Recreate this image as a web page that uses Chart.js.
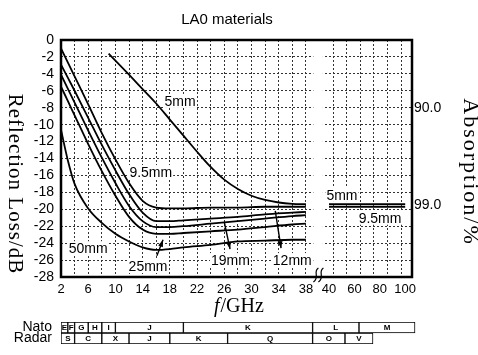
<!DOCTYPE html>
<html lang="en">
	<head>
		<meta charset="UTF-8"/>
		<title>LA0 materials</title>
		<script src="https://cdn.jsdelivr.net/npm/chart.js@4.4.0/dist/chart.umd.min.js"></script>
		<style>
			body { margin: 0; background: #fff; }
			#wrap { position: relative; width: 478px; height: 355px; }
			#wrap canvas { position: absolute; left: 0; }
		</style>
	</head>
	<body>
		<div id="wrap">
			<canvas id="chart" width="478" height="355" style="top:0"></canvas>
			<canvas id="bands" width="478" height="40" style="top:313px"></canvas>
		</div>
		<script>
			// reflection loss (dB) against frequency (GHz)
			const freq = [2, 3, 4, 6, 8, 10, 12, 14, 16, 18, 20, 24, 28, 32, 36, 38];
			const loss9_5 = [-1.0, -2.65, -4.3, -7.6, -11.0, -14.1, -16.9, -19.0, -19.8, -19.9, -19.9, -19.8, -19.8, -19.7, -19.7, -19.7];
			const loss12 = [-2.9, -4.45, -6.0, -9.2, -12.4, -15.4, -18.2, -20.4, -21.4, -21.4, -21.3, -21.1, -20.9, -20.6, -20.4, -20.3];
			const loss19 = [-4.1, -5.75, -7.4, -10.7, -13.9, -16.9, -19.6, -21.4, -22.1, -22.1, -22.0, -21.7, -21.4, -21.1, -20.8, -20.7];
			const loss25 = [-5.5, -7.2, -8.9, -12.3, -15.5, -18.4, -20.9, -22.4, -22.9, -22.9, -22.8, -22.6, -22.4, -22.1, -21.8, -21.7];
			const loss50 = [-10.6, -14.2, -17.0, -19.9, -21.6, -22.9, -23.8, -24.5, -24.8, -24.7, -24.5, -24.2, -23.8, -23.7, -23.6, -23.6];

			const freq5 = [9, 12, 14, 16, 18, 20, 22, 24, 26, 28, 30, 32, 34, 36, 38];
			const loss5 = [-1.6, -4.1, -5.8, -7.5, -9.4, -11.3, -13.2, -15.0, -16.5, -17.6, -18.4, -18.9, -19.2, -19.35, -19.4];

			// 40-100 GHz part after the axis break
			const freqHigh = [40, 100];
			const loss5High = [-19.4, -19.4];
			const loss9_5High = [-19.7, -19.7];

			// tick labels
			const yTicks = [0, -2, -4, -6, -8, -10, -12, -14, -16, -18, -20, -22, -24, -26, -28];
			const xLabelsLow = [2, 6, 10, 14, 18, 22, 26, 30, 34, 38];
			const xLabelsHigh = [40, 60, 80, 100];
			const absLabels = ['90.0', '99.0'];
			const absDb = [-8.0, -19.5];

			// frequency bands
			const natoNames = ['E', 'F', 'G', 'H', 'I', 'J', 'K', 'L', 'M'];
			const natoFrom = [2, 3, 4, 6, 8, 10, 20, 40, 60];
			const natoTo = [3, 4, 6, 8, 10, 20, 40, 60, 100];
			const radarNames = ['S', 'C', 'X', 'J', 'K', 'Q', 'O', 'V'];
			const radarFrom = [2, 4, 8, 12, 18, 26.5, 40, 50];
			const radarTo = [4, 8, 12, 18, 26.5, 40, 50, 70];

			// broken axis: 2-38 GHz linear, then 40-100 GHz squeezed
			function pos(f) {
				return f <= 38 ? f : 41.4 + (f - 40) * (52.6 - 41.4) / 60;
			}
			function tablePos(f) {
				return f <= 40 ? Math.min(f, 39) : 41.7 + (f - 40) * 0.206;
			}

			const curveLabels = [
				{text: '5mm', at: [19.5, -7.2]},
				{text: '9.5mm', at: [15.2, -15.6]},
				{text: '50mm', at: [6.0, -24.6]},
				{text: '25mm', at: [14.8, -26.7]},
				{text: '19mm', at: [26.9, -26.0]},
				{text: '12mm', at: [36.0, -26.0]},
				{text: '5mm', at: [43.3, -18.3]},
				{text: '9.5mm', at: [48.9, -21.0]}
			];
			const arrows = [
				{from: [16.1, -25.5], to: [17.0, -23.6]},
				{from: [26.0, -21.5], to: [26.85, -24.7]},
				{from: [33.5, -20.2], to: [34.35, -24.6]}
			];

			Chart.defaults.font.family = 'Liberation Sans';
			Chart.defaults.color = '#000';

			function pts(xs, ys) {
				return xs.map((f, i) => ({x: pos(f), y: ys[i]}));
			}
			function curve(data) {
				return {data: data, borderColor: '#000', borderWidth: 1.8, pointRadius: 0, cubicInterpolationMode: 'monotone', fill: false};
			}

			function buildXTicks() {
				const t = [];
				for (let v = 2; v <= 52; v += 2) {
					if (v === 40) continue;
					t.push({value: v, grid: true, txt: xLabelsLow.includes(v) ? String(v) : ''});
				}
				xLabelsHigh.forEach(f => t.push({value: pos(f), grid: false, txt: String(f)}));
				return t.sort((a, b) => a.value - b.value);
			}

			const decor = {
				id: 'decor',
				beforeDatasetsDraw(chart) {
					const {ctx, chartArea: a, scales: {x, y}} = chart;
					ctx.save();
					// gap in the grid at the axis break
					const g1 = x.getPixelForValue(39.1), g2 = x.getPixelForValue(40.5);
					ctx.fillStyle = '#fff';
					ctx.fillRect(g1, a.top, g2 - g1, a.bottom - a.top);
					// curve labels
					ctx.font = '14px Liberation Sans';
					ctx.textAlign = 'center';
					ctx.textBaseline = 'middle';
					curveLabels.forEach(l => {
						const cx = x.getPixelForValue(l.at[0]), cy = y.getPixelForValue(l.at[1]);
						const w = ctx.measureText(l.text).width;
						ctx.fillStyle = '#fff';
						ctx.fillRect(cx - w / 2 - 1, cy - 7, w + 2, 14);
						ctx.fillStyle = '#000';
						ctx.fillText(l.text, cx, cy + 1);
					});
					ctx.restore();
				},
				afterDatasetsDraw(chart) {
					const {ctx, chartArea: a, scales: {x, y}} = chart;
					ctx.save();
					// arrows from labels to curves
					ctx.strokeStyle = '#000';
					ctx.fillStyle = '#000';
					ctx.lineWidth = 1.4;
					arrows.forEach(r => {
						const x1 = x.getPixelForValue(r.from[0]), y1 = y.getPixelForValue(r.from[1]);
						const x2 = x.getPixelForValue(r.to[0]), y2 = y.getPixelForValue(r.to[1]);
						ctx.beginPath();
						ctx.moveTo(x1, y1);
						ctx.lineTo(x2, y2);
						ctx.stroke();
						const ang = Math.atan2(y2 - y1, x2 - x1);
						ctx.beginPath();
						ctx.moveTo(x2, y2);
						ctx.lineTo(x2 - 7 * Math.cos(ang) + 2.5 * Math.sin(ang), y2 - 7 * Math.sin(ang) - 2.5 * Math.cos(ang));
						ctx.lineTo(x2 - 7 * Math.cos(ang) - 2.5 * Math.sin(ang), y2 - 7 * Math.sin(ang) + 2.5 * Math.cos(ang));
						ctx.closePath();
						ctx.fill();
					});
					// frame
					ctx.lineWidth = 2.5;
					ctx.strokeRect(a.left, a.top, a.right - a.left, a.bottom - a.top);
					// break mark on the bottom axis
					const bx = x.getPixelForValue(39.4);
					ctx.lineWidth = 1.2;
					[0, 5].forEach(d => {
						ctx.beginPath();
						ctx.moveTo(bx + d + 3, a.bottom - 9);
						ctx.bezierCurveTo(bx + d - 3, a.bottom - 5, bx + d + 5, a.bottom, bx + d - 2, a.bottom + 5);
						ctx.stroke();
					});
					ctx.restore();
				},
				afterDraw(chart) {
					const ctx = chart.ctx;
					ctx.save();
					ctx.fillStyle = '#000';
					ctx.textAlign = 'center';
					ctx.textBaseline = 'middle';
					ctx.font = '15px Liberation Sans';
					ctx.fillText('LA0 materials', 227, 20);
					// rotated axis titles (reading top to bottom)
					ctx.font = '21px Liberation Serif';
					ctx.letterSpacing = '1px';
					ctx.save();
					ctx.translate(15, 184);
					ctx.rotate(Math.PI / 2);
					ctx.fillText('Reflection Loss/dB', 0, 0);
					ctx.restore();
					ctx.font = '22px Liberation Serif';
					ctx.letterSpacing = '2px';
					ctx.save();
					ctx.translate(470, 172);
					ctx.rotate(Math.PI / 2);
					ctx.fillText('Absorption/%', 0, 0);
					ctx.restore();
					ctx.letterSpacing = '0px';
					// x title with italic f
					ctx.textAlign = 'left';
					ctx.textBaseline = 'alphabetic';
					ctx.font = 'italic 20px Liberation Serif';
					const fw = ctx.measureText('f').width;
					ctx.fillText('f', 214, 312);
					ctx.font = '20px Liberation Serif';
					ctx.fillText('/GHz', 214 + fw + 1, 312);
					ctx.restore();
				}
			};

			const gridColor = c => (c.tick && c.tick.grid) ? '#333' : 'rgba(0,0,0,0)';

			new Chart(document.getElementById('chart'), {
				type: 'line',
				data: {
					datasets: [
						curve(pts(freq5, loss5)),
						curve(pts(freq, loss9_5)),
						curve(pts(freq, loss12)),
						curve(pts(freq, loss19)),
						curve(pts(freq, loss25)),
						curve(pts(freq, loss50)),
						curve(pts(freqHigh, loss5High)),
						curve(pts(freqHigh, loss9_5High))
					]
				},
				options: {
					responsive: false,
					animation: false,
					devicePixelRatio: 1,
					layout: {padding: {top: 40}},
					plugins: {legend: {display: false}, tooltip: {enabled: false}, title: {display: false}},
					scales: {
						x: {
							type: 'linear', min: 2, max: 53.6,
							afterBuildTicks: s => { s.ticks = buildXTicks(); },
							afterFit: s => { s.height = 78; },
							ticks: {autoSkip: false, maxRotation: 0, padding: 5, font: {size: 13}, color: '#000',
								callback: (v, i, t) => t[i].txt},
							grid: {color: gridColor, drawTicks: false, lineWidth: 1},
							border: {display: false, dash: [2, 2]}
						},
						y: {
							min: -28, max: 0,
							afterBuildTicks: s => { s.ticks = yTicks.map(v => ({value: v})); },
							afterFit: s => { s.width = 61; },
							ticks: {autoSkip: false, padding: 7, font: {size: 14}, color: '#000'},
							grid: {color: '#333', drawTicks: false, lineWidth: 1},
							border: {display: false, dash: [2, 2]}
						},
						y2: {
							position: 'right', min: -28, max: 0,
							afterBuildTicks: s => { s.ticks = absDb.map((v, i) => ({value: v, txt: absLabels[i]})); },
							afterFit: s => { s.width = 66; },
							ticks: {autoSkip: false, padding: 2, font: {size: 14}, color: '#000', callback: (v, i, t) => t[i].txt},
							grid: {display: false, drawTicks: false},
							border: {display: false}
						}
					}
				},
				plugins: [decor]
			});

			const bandText = {
				id: 'bandText',
				afterDatasetsDraw(chart) {
					const ctx = chart.ctx;
					ctx.save();
					ctx.font = 'bold 8px Liberation Sans';
					ctx.fillStyle = '#000';
					ctx.textAlign = 'center';
					ctx.textBaseline = 'middle';
					chart.data.datasets.forEach((ds, d) => {
						chart.getDatasetMeta(d).data.forEach((el, i) => {
							if (ds.data[i] == null) return;
							ctx.fillText(ds.label, (el.x + el.base) / 2, el.y + 0.5);
						});
					});
					ctx.restore();
				}
			};

			// one floating bar per band, row 0 = Nato, row 1 = Radar
			function band(name, from, to, row) {
				const data = [null, null];
				data[row] = [tablePos(from), tablePos(to)];
				return {label: name, data: data, backgroundColor: '#fff', borderColor: '#000', borderWidth: 1,
					borderSkipped: false, grouped: false, barPercentage: 1, categoryPercentage: 1};
			}
			const bandSets = natoNames.map((n, i) => band(n, natoFrom[i], natoTo[i], 0))
				.concat(radarNames.map((n, i) => band(n, radarFrom[i], radarTo[i], 1)));

			new Chart(document.getElementById('bands'), {
				type: 'bar',
				data: {labels: ['Nato', 'Radar'], datasets: bandSets},
				options: {
					indexAxis: 'y',
					responsive: false,
					animation: false,
					devicePixelRatio: 1,
					layout: {padding: {top: 9, bottom: 9, right: 60}},
					plugins: {legend: {display: false}, tooltip: {enabled: false}, colors: {enabled: false}},
					scales: {
						x: {type: 'linear', min: 2, max: 54.5, display: false},
						y: {
							type: 'category',
							afterFit: s => { s.width = 61; s.paddingTop = 0; s.paddingBottom = 0; },
							ticks: {autoSkip: false, padding: 9, font: {size: 14}, color: '#000'},
							grid: {display: false, drawTicks: false},
							border: {display: false}
						}
					}
				},
				plugins: [bandText]
			});
		</script>
	</body>
</html>
